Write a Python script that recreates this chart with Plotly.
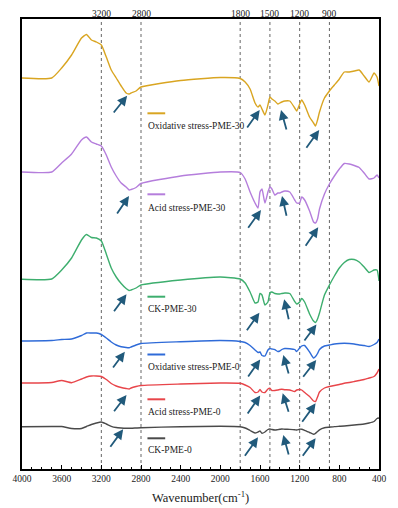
import plotly.graph_objects as go

# Wavenumber grid (cm-1)
wavenumber = [4000, 3700, 3600, 3500, 3400, 3350, 3300, 3250, 3200, 3150,
              3100, 3050, 3000, 2950, 2920, 2900, 2850, 2800, 2400, 2000,
              1800, 1750, 1700, 1650, 1620, 1600, 1580, 1550, 1520, 1500,
              1480, 1450, 1420, 1400, 1380, 1350, 1300, 1250, 1230, 1200,
              1180, 1150, 1100, 1060, 1040, 1020, 1000, 950, 900, 850,
              800, 750, 700, 650, 600, 550, 500, 450, 420, 400]

# Stacked transmittance (a.u., with vertical offsets)
oxi_pme30 = [391, 391, 401, 414, 431, 434.5, 429, 427, 424, 412,
             399, 391, 383, 376, 375, 376, 378, 382, 388.5, 391.5,
             390.5, 387, 380, 366, 362, 364, 360, 354, 364, 372,
             370, 368, 365, 366, 367, 368, 368, 361, 358, 365,
             369, 364, 352, 346, 343, 349, 357, 371, 378, 384,
             390, 397, 397, 398, 399, 393, 387, 396, 392, 383]
acid_pme30 = [297, 297, 306, 315, 329, 332, 327, 325, 323, 314,
              302, 293, 286, 282, 279, 279.5, 281.5, 285.5, 293, 297,
              296.5, 290, 277, 266, 261, 277, 280, 266, 277, 282,
              280, 274, 276, 276, 277, 278, 277, 269, 266, 266,
              272, 269, 258, 247, 246, 250, 260, 275, 285, 293,
              300, 305.5, 305, 303.5, 301.5, 296, 290, 291, 294, 291]
ck_pme30 = [189.7, 190, 199, 211, 229, 234.5, 231.5, 231, 228, 215,
            201, 192, 185.5, 180.5, 178.5, 179, 181, 184, 189, 192,
            190, 186, 177, 166, 167, 175.5, 174, 164, 167, 176,
            177, 175.5, 175, 175, 175.5, 176, 175.5, 167.5, 165, 167,
            170.5, 167, 155, 148, 146.5, 150, 156, 174, 184, 193,
            201, 206.5, 209.5, 209.5, 207, 202, 196.5, 199, 199, 188]
oxi_pme0 = [128, 128.5, 129.5, 130, 133.5, 136, 136, 136, 134.5, 131,
            127, 124, 122.2, 121.5, 121.3, 122, 124, 125.5, 127.3, 128.5,
            127.5, 126.5, 123.5, 119, 116.5, 117, 113.5, 113, 119, 120.5,
            120, 119.3, 117.5, 118, 119.5, 120.5, 120.3, 119.5, 117.5, 121,
            123, 123.5, 117, 111, 112.5, 115.5, 119.5, 123, 124, 125,
            125.5, 125.7, 125.5, 125, 124, 123.5, 122.5, 124.5, 126.5, 130]
acid_pme0 = [86, 86.5, 88.5, 86.3, 90, 92, 93, 93, 92.5, 89.5,
             85.5, 83, 81.5, 80.5, 80, 81, 82.5, 83.5, 85, 86,
             85.7, 84, 81.5, 76.5, 77, 79.5, 77, 76.5, 80, 80.7,
             78.5, 78.5, 79, 79.5, 79.7, 79.3, 79, 77.5, 79, 79.5,
             79, 76.5, 72.5, 68, 67.5, 72, 77, 81, 82.5, 83.5,
             84.5, 85.7, 86.5, 87.5, 88.5, 89.5, 91, 92.5, 96, 100]
ck_pme0 = [42.3, 42.5, 42.5, 40.5, 40.5, 42.5, 44.5, 46, 47, 45,
           42.7, 41.5, 41, 40.7, 40.7, 40.7, 41, 41.3, 42.3, 42.7,
           42.3, 41, 38.5, 36, 37, 38, 35.7, 37, 39.5, 40,
           39.5, 39, 39.4, 39.7, 40, 39.8, 39.6, 39.3, 39, 39.8,
           39.8, 38.7, 36.5, 34.7, 35.7, 37.5, 39.2, 41.2, 41.8, 42.4,
           42.7, 43, 43.5, 44, 44.5, 45, 46, 47.5, 50.5, 51]

series_names = ["Oxidative stress-PME-30", "Acid stress-PME-30", "CK-PME-30",
                "Oxidative stress-PME-0", "Acid stress-PME-0", "CK-PME-0"]
series_values = [oxi_pme30, acid_pme30, ck_pme30, oxi_pme0, acid_pme0, ck_pme0]
series_colors = ["#D9A521", "#B57EDC", "#3DAE6E", "#2F6BD8", "#E8454A", "#4A4A4A"]

# Legend sample positions (label line y, label text y) in data units
legend_line_y = [355.7, 274.7, 172.3, 114.5, 69.7, 30.7]
legend_text_y = [343.5, 260.7, 160.5, 102.3, 57.3, 19]
legend_x = [2735, 2556]
legend_text_x = 2752

# Reference band positions (cm-1)
band_lines = [3200, 2800, 1800, 1500, 1200, 900]
band_labels = ["3200", "2800", "1800", "1500", "1200", "900"]

# Arrows: (tail_wn, tail_val, tip_wn, tip_val)
arrows = [
    (3087, 355, 2940, 373.3), (1740, 340, 1603, 359), (1329, 338, 1388, 359), (1143, 319.7, 1003, 339),
    (3051, 254, 2921, 273), (1730, 239.7, 1590, 259), (1329, 251.7, 1378, 273), (1150, 221.7, 1013, 241.7),
    (3083, 156.3, 2946, 174.7), (1743, 137.3, 1606, 156.3), (1307, 148.3, 1356, 169.7), (1163, 127, 1031, 144.5),
    (3093, 100, 2963, 117.3), (1730, 91, 1598, 109.5), (1307, 94, 1365, 114), (1176, 90.7, 1033, 109),
    (3083, 56.3, 2946, 74), (1735, 54, 1598, 73.5), (1307, 55.7, 1371, 75.7), (1185, 45.7, 1039, 65.7),
    (3120, 20.7, 2980, 39.7), (1763, 11.7, 1620, 31.7), (1307, 13, 1365, 34), (1180, 11.7, 1039, 30.7),
]

FONT = "Liberation Serif"
ARROW_COLOR = "#215A7B"

fig = go.Figure()

for name, vals, col in zip(series_names, series_values, series_colors):
    fig.add_trace(go.Scatter(x=wavenumber, y=vals, mode="lines", name=name,
                             line=dict(color=col, width=1.4, shape="spline", smoothing=0.5),
                             showlegend=False, hoverinfo="skip"))

for ly, col in zip(legend_line_y, series_colors):
    fig.add_trace(go.Scatter(x=legend_x, y=[ly, ly], mode="lines",
                             line=dict(color=col, width=2), showlegend=False, hoverinfo="skip"))

annotations = []
for name, ty in zip(series_names, legend_text_y):
    annotations.append(dict(x=legend_text_x, y=ty, xref="x", yref="y", text=name,
                            showarrow=False, xanchor="left", yanchor="middle",
                            font=dict(family=FONT, size=9.5, color="#222")))

for b, lab in zip(band_lines, band_labels):
    fig.add_shape(type="line", x0=b, x1=b, y0=0, y1=1, xref="x", yref="paper",
                  line=dict(color="#666", width=1, dash="dot"), layer="below")
    annotations.append(dict(x=b, y=1, xref="x", yref="paper", text=lab, showarrow=False,
                            yanchor="bottom", xanchor="center", yshift=-2,
                            font=dict(family=FONT, size=9.5, color="#222")))

for tx, ty, hx, hy in arrows:
    annotations.append(dict(x=hx, y=hy, ax=tx, ay=ty, xref="x", yref="y", axref="x", ayref="y",
                            showarrow=True, arrowhead=2, arrowsize=1.1, arrowwidth=1.8,
                            arrowcolor=ARROW_COLOR, text=""))

annotations.append(dict(x=0.5, y=-0.062, xref="paper", yref="paper",
                        text="Wavenumber(cm<sup>-1</sup>)", showarrow=False,
                        xanchor="center", yanchor="middle",
                        font=dict(family=FONT, size=12.5, color="#222")))

fig.update_layout(
    width=398, height=508,
    margin=dict(l=14, r=16, t=19, b=39),
    plot_bgcolor="white", paper_bgcolor="white",
    annotations=annotations,
    xaxis=dict(range=[4000, 400], showline=True, mirror=True, linecolor="black", linewidth=1.5,
               ticks="inside", ticklen=4, tickwidth=1, tickcolor="black",
               tickvals=[4000, 3600, 3200, 2800, 2400, 2000, 1600, 1200, 800, 400],
               ticktext=["4000", "3600", "3200", "2800", "2400", "2000", "1600", "1200", "800", "400"],
               minor=dict(dtick=100, ticks="inside", ticklen=2, tickcolor="black", showgrid=False),
               tickfont=dict(family=FONT, size=9.5, color="#222"),
               showgrid=False, zeroline=False),
    yaxis=dict(range=[0, 450], showline=True, mirror=True, linecolor="black", linewidth=1.5,
               showticklabels=False, ticks="", showgrid=False, zeroline=False),
)

fig.write_html("out.html", config={"displayModeBar": False},
               post_script="document.body.style.margin='0';document.body.style.overflow='hidden';")
